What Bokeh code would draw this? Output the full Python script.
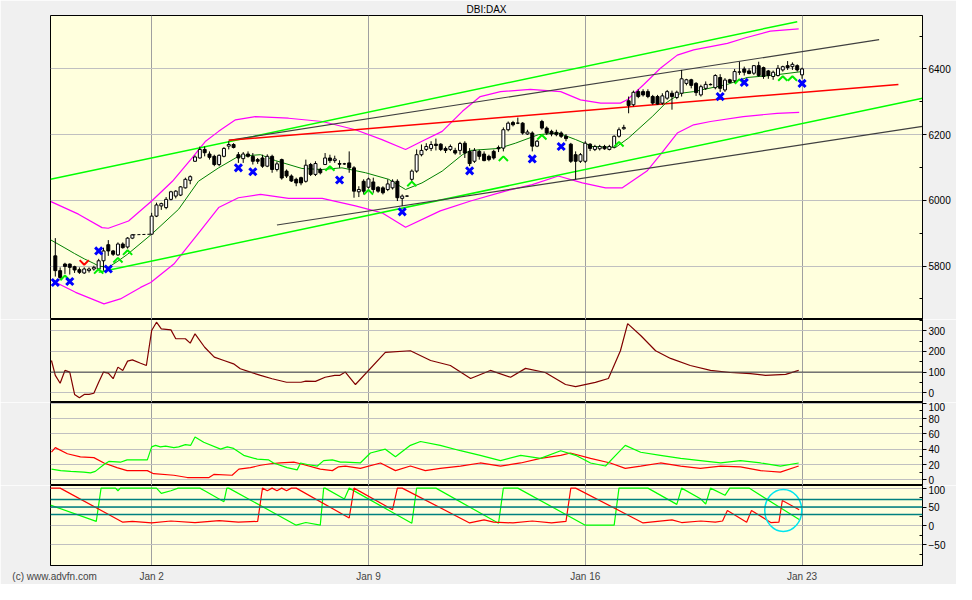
from bokeh.plotting import figure
from bokeh.models import Range1d, FixedTicker, Span, ColumnDataSource
from bokeh.layouts import column
from bokeh.embed import file_html
from bokeh.resources import INLINE

TITLE = "DBI:DAX"
COPYRIGHT = "(c) www.advfn.com"
COPYRIGHT_AT = 0.85
DATE_TICKS = [21, 66, 111, 156]
DATE_LABELS = ["Jan 2", "Jan 9", "Jan 16", "Jan 23"]

# hourly candles (x = trading-hour slot)
SLOT = list(range(1, 18)) + list(range(21, 157))
OPEN = [5831, 5786, 5806, 5806, 5798, 5789, 5779, 5786, 5791, 5791, 5816, 5865, 5846, 5834, 5867, 5858, 5885,
        5897, 5952, 5983, 5978, 6003, 6013, 6016, 6038, 6061, 6119, 6129, 6155, 6141, 6134, 6109, 6134, 6165, 6170,
        6139, 6127, 6141, 6134, 6124, 6129, 6104, 6134, 6094, 6124, 6089, 6074, 6064, 6069, 6058, 6109, 6079, 6094,
        6109, 6129, 6121, 6112, 6111, 6114, 6099, 6026, 6058, 6040, 6056, 6040, 6038, 6033, 6038, 6058, 6006, 6013,
        6064, 6089, 6139, 6155, 6158, 6171, 6171, 6158, 6155, 6152, 6152, 6174, 6149, 6119, 6149, 6141, 6134, 6149,
        6161, 6159, 6215, 6237, 6235, 6235, 6202, 6205, 6165, 6240, 6220, 6210, 6207, 6205, 6195, 6171, 6139, 6119,
        6119, 6171, 6155, 6157, 6164, 6155, 6162, 6195, 6218, 6303, 6291, 6331, 6331, 6331, 6316, 6316, 6296, 6311,
        6326, 6313, 6326, 6356, 6367, 6356, 6321, 6341, 6353, 6343, 6374, 6336, 6367, 6364, 6390, 6400, 6394, 6387,
        6410, 6404, 6394, 6377, 6380, 6397, 6410, 6407, 6410, 6382]
HIGH = [5885, 5796, 5810, 5808, 5801, 5796, 5796, 5796, 5801, 5822, 5856, 5879, 5849, 5872, 5872, 5888, 5897,
        5962, 5993, 5993, 6010, 6029, 6031, 6043, 6069, 6076, 6137, 6164, 6164, 6149, 6139, 6140, 6162, 6180, 6174,
        6147, 6147, 6149, 6144, 6129, 6139, 6140, 6139, 6118, 6127, 6094, 6079, 6069, 6072, 6124, 6114, 6119, 6099,
        6144, 6139, 6136, 6122, 6114, 6149, 6104, 6043, 6064, 6069, 6069, 6043, 6043, 6064, 6064, 6064, 6018, 6015,
        6094, 6155, 6170, 6174, 6180, 6188, 6174, 6164, 6170, 6160, 6178, 6180, 6159, 6159, 6154, 6149, 6139, 6154,
        6167, 6222, 6240, 6242, 6252, 6238, 6215, 6210, 6184, 6245, 6225, 6215, 6215, 6210, 6202, 6175, 6149, 6144,
        6180, 6174, 6169, 6169, 6169, 6169, 6198, 6222, 6230, 6316, 6334, 6338, 6338, 6338, 6321, 6321, 6326, 6336,
        6334, 6334, 6397, 6370, 6370, 6360, 6352, 6362, 6356, 6384, 6384, 6372, 6370, 6400, 6422, 6407, 6402, 6412,
        6422, 6407, 6397, 6395, 6412, 6410, 6424, 6420, 6414, 6404]
LOW = [5768, 5758, 5776, 5774, 5779, 5776, 5776, 5780, 5786, 5786, 5786, 5831, 5831, 5831, 5853, 5853, 5882,
       5895, 5949, 5971, 5973, 6000, 6006, 6013, 6036, 6049, 6117, 6127, 6134, 6124, 6104, 6104, 6131, 6155, 6158,
       6114, 6114, 6130, 6109, 6111, 6099, 6101, 6084, 6088, 6063, 6068, 6056, 6043, 6046, 6054, 6074, 6074, 6079,
       6109, 6114, 6114, 6099, 6108, 6084, 6008, 6010, 6018, 6036, 6023, 6023, 6018, 6028, 6033, 5998, 5983, 6011,
       6056, 6084, 6134, 6150, 6150, 6152, 6150, 6144, 6150, 6139, 6139, 6129, 6104, 6114, 6124, 6119, 6119, 6124,
       6147, 6149, 6210, 6225, 6232, 6200, 6199, 6149, 6162, 6215, 6199, 6195, 6195, 6190, 6180, 6114, 6064, 6114,
       6114, 6150, 6150, 6152, 6154, 6152, 6158, 6191, 6215, 6265, 6286, 6311, 6316, 6311, 6291, 6291, 6291, 6306,
       6276, 6308, 6316, 6350, 6341, 6318, 6316, 6336, 6350, 6338, 6330, 6330, 6357, 6357, 6382, 6380, 6384, 6382,
       6376, 6370, 6370, 6367, 6377, 6392, 6397, 6397, 6392, 6370]
CLOSE = [5786, 5765, 5799, 5796, 5788, 5781, 5791, 5791, 5796, 5816, 5846, 5846, 5836, 5867, 5856, 5885, 5895,
         5952, 5986, 5990, 6003, 6026, 6028, 6041, 6064, 6072, 6132, 6155, 6145, 6131, 6109, 6137, 6158, 6170, 6161,
         6129, 6141, 6134, 6119, 6119, 6104, 6134, 6094, 6111, 6068, 6074, 6059, 6053, 6053, 6107, 6079, 6112, 6084,
         6129, 6121, 6126, 6110, 6111, 6099, 6028, 6033, 6028, 6065, 6033, 6028, 6023, 6050, 6058, 6008, 6013, 6013,
         6089, 6139, 6152, 6164, 6170, 6167, 6155, 6152, 6164, 6144, 6173, 6144, 6112, 6152, 6134, 6121, 6124, 6129,
         6157, 6215, 6235, 6230, 6235, 6205, 6208, 6165, 6180, 6220, 6205, 6202, 6200, 6195, 6188, 6119, 6119, 6139,
         6174, 6158, 6164, 6164, 6157, 6164, 6195, 6215, 6222, 6289, 6329, 6316, 6321, 6316, 6296, 6293, 6318, 6331,
         6316, 6329, 6370, 6367, 6350, 6328, 6346, 6353, 6352, 6380, 6341, 6366, 6359, 6392, 6391, 6390, 6386, 6410,
         6380, 6377, 6380, 6390, 6402, 6407, 6404, 6414, 6397, 6400]

# moving average (dark green)
MA_X = [0, 3, 5, 7, 9, 10, 12, 14, 16, 21, 26.6, 30.7, 34.9, 39, 43.6, 46.7, 52.2, 56.4, 60.5, 65.4, 70.2, 73.7,
        77.1, 81.3, 85.5, 87.2, 93, 96.5, 101.3, 105.4, 109, 112.4, 117.3, 120, 124.9, 127.7, 130.8, 133.5, 140.5,
        144.6, 149.4, 156]
MA_Y = [5880, 5855, 5838, 5822, 5808, 5800, 5796, 5815, 5836, 5897, 5973, 6058, 6099, 6134, 6139, 6121, 6097, 6094,
        6099, 6084, 6064, 6033, 6053, 6089, 6139, 6152, 6158, 6174, 6200, 6205, 6185, 6164, 6161, 6190, 6255, 6296,
        6326, 6331, 6353, 6374, 6380, 6392]

# bollinger bands (magenta)
BBU_X = [0.1, 5.8, 10.7, 12, 16.2, 21, 25.3, 29.4, 32.2, 34.9, 38.4, 42.5, 49.4, 56.4, 63.3, 68.8, 73.7, 77.1, 81.3,
         85.5, 89.2, 93.4, 99.6, 105.9, 110, 114.2, 118.3, 119.7, 123.1, 126.6, 130.1, 133.5, 137, 140.5, 144.3,
         149.4, 155.3]
BBU_Y = [5996, 5958, 5917, 5915, 5937, 5998, 6058, 6129, 6180, 6210, 6245, 6255, 6250, 6240, 6215, 6185, 6155, 6180,
         6210, 6271, 6316, 6331, 6338, 6331, 6306, 6296, 6296, 6306, 6352, 6402, 6442, 6458, 6468, 6478, 6495, 6515,
         6522]
BBL_X = [0.4, 5.2, 11.1, 14.5, 18.7, 20.8, 25.6, 31.1, 34.9, 39, 43.6, 49.4, 56.4, 63.3, 68.8, 73.7, 80.9, 87.2,
         94.4, 100, 105.4, 110.4, 115.2, 118.7, 123.8, 126.6, 130.1, 133.5, 137, 143.8, 150.8, 155.4]
BBL_Y = [5755, 5720, 5685, 5700, 5735, 5750, 5806, 5907, 5978, 6008, 6018, 6006, 6006, 5983, 5962, 5918, 5968, 5998,
         6028, 6048, 6074, 6053, 6038, 6038, 6089, 6139, 6205, 6230, 6240, 6255, 6265, 6268]

# trend lines
GREEN_UP_X, GREEN_UP_Y = [0, 155], [6064, 6544]
GREEN_LO_X, GREEN_LO_Y = [10, 181], [5781, 6311]
DARK_UP_X, DARK_UP_Y = [37, 172], [6183, 6489]
DARK_LO_X, DARK_LO_Y = [47, 181], [5925, 6225]
RED_X, RED_Y = [37, 176], [6183, 6353]

# signals
XMARK_X = [1, 4, 10, 12, 39, 42, 60, 73, 87, 100, 106, 139, 144, 156]
XMARK_Y = [5750, 5753, 5846, 5791, 6099, 6087, 6062, 5965, 6090, 6126, 6164, 6316, 6359, 6356]
UP_X = [3, 10, 14, 16, 58, 66, 75, 94, 102, 118, 143, 152, 154]
UP_Y = [5764, 5784, 5818, 5841, 6097, 6025, 6050, 6127, 6192, 6171, 6362, 6371, 6371]
DOWN_X = [7]
DOWN_Y = [5811]

# indicator 1 (maroon)
IND1_X = [0.2, 1, 2, 3, 4, 5, 6, 7, 8, 9, 10, 11, 12, 13, 14, 15, 16, 17, 18.7, 19.9, 21, 22, 23, 25, 26, 28, 29,
          30, 32, 34, 36, 38, 39.4, 41.5, 43.6, 46, 49, 52, 53, 55, 57, 59, 60, 61.2, 63.3, 69.5, 74.7, 78.9, 83,
          87.2, 91.3, 95.5, 98.6, 102.7, 106.9, 109, 113.1, 115.8, 118.3, 119.8, 122.5, 125.6, 128.7, 132.8, 137,
          141.1, 145.3, 148.4, 152.6, 155.3]
IND1_Y = [156, 84, 46, 108, 100, -8, -24, -8, -8, -2, 51, 100, 95, 68, 124, 108, 153, 159, 143, 132, 301, 341, 309,
          304, 261, 261, 240, 285, 220, 172, 156, 140, 116, 100, 84, 68, 51, 51, 56, 55, 75, 84, 84, 100, 40, 195,
          203, 156, 132, 69, 108, 75, 118, 98, 40, 30, 50, 69, 203, 334, 277, 203, 166, 132, 108, 98, 93, 84, 89, 108]

# indicator 2 (+DI green / -DI red)
DI_RED_X = [0.2, 1, 3.5, 6.2, 9, 11.1, 13.8, 15.9, 20.1, 21.4, 25.6, 28.4, 32.9, 33.9, 37.7, 39.1, 41.5, 43.6, 45.7,
            47.7, 50.5, 51.9, 56, 58.5, 59.8, 61.2, 64.3, 68.5, 71.6, 74.7, 77.8, 80.9, 85.1, 89.2, 93.4, 97.6,
            101.7, 105.9, 107.9, 112.1, 116.2, 119.3, 122.5, 126.6, 130.8, 134.9, 139.1, 143.2, 147.4, 151.5, 155.3]
DI_RED_Y = [36, 42, 34, 30, 29, 22, 16, 12, 12, 8, 6, 3, 3, 7, 6, 14, 16, 19, 21, 22, 23, 21, 14, 12, 17, 18, 15, 22,
            12, 18, 12, 15, 18, 22, 18, 22, 28, 32, 35, 28, 22, 15, 18, 22, 18, 15, 18, 17, 12, 10, 18]
DI_GREEN_X = [0.2, 2.1, 4.2, 6.9, 8.3, 9.3, 11.1, 12.1, 14.5, 15.9, 20.1, 21, 21.8, 22.8, 23.9, 25.6, 26.6, 28, 29.1,
              30, 31.8, 35.3, 36.7, 38, 40.1, 42.9, 45.3, 46.3, 49.1, 51.2, 51.9, 53.3, 55.4, 56.7, 58.5, 60.2, 61.2,
              64.3, 66.4, 69.5, 71.6, 74.7, 76.8, 80.9, 85.1, 89.2, 93.4, 97.6, 101.7, 105.9, 109, 112.1, 115.2,
              117.3, 119.3, 122.5, 126.6, 130.8, 134.9, 139.1, 143.2, 147.4, 151.5, 155.3]
DI_GREEN_Y = [14, 12, 11, 10, 9, 11, 20, 24, 23, 26, 26, 43, 45, 43, 44, 42, 43, 46, 45, 56, 49, 40, 43, 41, 32, 27,
              26, 22, 16, 13, 22, 20, 18, 25, 26, 23, 23, 22, 35, 40, 30, 45, 50, 45, 38, 32, 25, 32, 28, 38, 32, 22,
              18, 32, 45, 36, 32, 28, 25, 22, 25, 22, 18, 22]

# indicator 3 (aroon up green / aroon down red)
AR_GREEN_X = [0, 9.5, 10.5, 13.5, 14, 14.5, 21, 22, 23, 25, 26.5, 31, 32, 36, 36.6, 37, 51, 53, 56, 56.7, 57, 61,
              62, 75, 76, 80, 93, 94, 97, 111, 117, 118, 124, 130, 131, 135, 136, 137, 140, 141, 145, 155.4]
AR_GREEN_Y = [55, 12, 100, 100, 93, 100, 100, 100, 86, 93, 100, 100, 93, 64, 100, 100, 2, 9, 2, 100, 100, 71, 100,
              7, 100, 100, 7, 100, 100, 2, 2, 100, 100, 57, 100, 71, 58, 100, 81, 100, 100, 17]
AR_RED_X = [0, 2, 15, 17, 21, 25, 30, 35, 39, 43, 44, 45, 46, 47, 48, 49, 50, 51, 62, 63, 71, 72, 73, 87, 90, 92,
            96, 100, 104, 107, 108, 109, 123, 126, 129, 131, 135, 138, 139.5, 140.5, 144.5, 145.5, 149.5, 151.2,
            151.9, 155.4]
AR_RED_Y = [100, 100, 10, 12, 8, 13, 9, 14, 10, 12, 100, 93, 100, 93, 100, 93, 100, 100, 21, 100, 43, 100, 100, 8,
            16, 10, 8, 13, 8, 12, 100, 100, 8, 12, 16, 9, 13, 10, 13, 41, 10, 41, 9, 10, 67, 43]
AR_LEVELS = [70, 50, 30]
CIRCLE_X, CIRCLE_Y = [152.1], [41]

FONT = "Liberation Sans"
BG = "#FFFFDD"
PAGE = "#F0F0F0"

xr = Range1d(0, 181)


def panel(height, yr, major, minor, top=0, bottom=0, xaxis=False):
    p = figure(width=956, height=height, x_range=xr, y_range=Range1d(*yr), output_backend="svg",
               toolbar_location=None, tools="", y_axis_location="right",
               x_axis_location="below" if xaxis else None,
               min_border_left=50, min_border_right=34, min_border_top=top, min_border_bottom=bottom,
               background_fill_color=BG, border_fill_color=PAGE, outline_line_color="black",
               outline_line_width=1)
    ax = p.yaxis[0]
    ax.ticker = FixedTicker(ticks=major, minor_ticks=minor)
    ax.axis_line_color = "black"
    ax.major_tick_out = 4
    ax.major_tick_in = 0
    ax.minor_tick_in = 3
    ax.minor_tick_out = 0
    ax.major_label_standoff = 2
    ax.major_label_text_font = FONT
    ax.major_label_text_font_size = "10px"
    ax.major_label_text_color = "black"
    p.ygrid.ticker = FixedTicker(ticks=major)
    p.ygrid.grid_line_color = "#C0C0C0"
    p.xgrid.ticker = FixedTicker(ticks=DATE_TICKS)
    p.xgrid.grid_line_color = "#A0A0A0"
    if xaxis:
        xa = p.xaxis[0]
        xa.ticker = FixedTicker(ticks=[COPYRIGHT_AT] + DATE_TICKS)
        ov = {t: l for t, l in zip(DATE_TICKS, DATE_LABELS)}
        ov[COPYRIGHT_AT] = COPYRIGHT
        xa.major_label_overrides = ov
        xa.axis_line_color = "black"
        xa.major_tick_out = 0
        xa.major_tick_in = 0
        xa.minor_tick_out = 0
        xa.minor_tick_in = 0
        xa.major_label_standoff = 5
        xa.major_label_text_font = FONT
        xa.major_label_text_font_size = "10px"
    return p


# ---------------- price panel ----------------
p1 = panel(319, (5637.3, 6562.7), [5800, 6000, 6200, 6400], [5700, 5900, 6100, 6300, 6500], top=14)
p1.title.text = TITLE
p1.title.align = "center"
p1.title.text_font = FONT
p1.title.text_font_size = "10px"
p1.title.text_font_style = "normal"
p1.title.text_color = "black"
p1.title.standoff = 2
p1.title.offset = 0

for xs, ys, col, w in [(BBU_X, BBU_Y, "#FF00FF", 1.2), (BBL_X, BBL_Y, "#FF00FF", 1.2),
                       (GREEN_UP_X, GREEN_UP_Y, "#00FF00", 1.5), (GREEN_LO_X, GREEN_LO_Y, "#00FF00", 1.5),
                       (DARK_UP_X, DARK_UP_Y, "#404040", 1.2), (DARK_LO_X, DARK_LO_Y, "#404040", 1.2),
                       (RED_X, RED_Y, "#FF0000", 1.5), (MA_X, MA_Y, "#008000", 1.0)]:
    p1.line(xs, ys, line_color=col, line_width=w)

cd = dict(x=[], h=[], l=[], top=[], bot=[], fill=[])
for s, o, h, l, c in zip(SLOT, OPEN, HIGH, LOW, CLOSE):
    cd["x"].append(s); cd["h"].append(h); cd["l"].append(l)
    cd["top"].append(max(o, c)); cd["bot"].append(min(o, c))
    cd["fill"].append("white" if c >= o else "black")
src = ColumnDataSource(cd)
p1.segment(x0="x", y0="l", x1="x", y1="h", source=src, line_color="black", line_width=1)
p1.vbar(x="x", width=0.62, top="top", bottom="bot", source=src, fill_color="fill", line_color="black",
        line_width=1)
# holiday gap
gi = SLOT.index(21)
p1.line([SLOT[gi - 1], SLOT[gi]], [CLOSE[gi - 1], OPEN[gi]], line_color="black", line_dash="3 2", line_width=1)

# chevrons
cw, ch = 0.95, 14
p1.multi_line([[x - cw, x, x + cw] for x in UP_X], [[y - ch / 2, y + ch / 2, y - ch / 2] for y in UP_Y],
              line_color="#00EE00", line_width=2)
p1.multi_line([[x - cw, x, x + cw] for x in DOWN_X], [[y + ch / 2, y - ch / 2, y + ch / 2] for y in DOWN_Y],
              line_color="#FF0000", line_width=2)
p1.scatter(XMARK_X, XMARK_Y, marker="x", size=10, line_width=3, line_color="#0000FF")

# ---------------- indicator 1 ----------------
p2 = panel(83, (-46.9, 354.1), [0, 100, 200, 300], [50, 150, 250, 350])
p2.add_layout(Span(location=100, dimension="width", line_color="#404040", line_width=1))
p2.line(IND1_X, IND1_Y, line_color="#800000", line_width=1.2)

# ---------------- indicator 2 ----------------
p3 = panel(83, (-7.4, 100.9), [0, 20, 40, 60, 80, 100], [10, 30, 50, 70, 90])
p3.line(DI_RED_X, DI_RED_Y, line_color="#FF0000", line_width=1.2)
p3.line(DI_GREEN_X, DI_GREEN_Y, line_color="#00FF00", line_width=1.2)

# ---------------- indicator 3 ----------------
p4 = panel(99, (-104.6, 106.9), [-50, 0, 50, 100], [-75, -25, 25, 75], bottom=17, xaxis=True)
for lv in AR_LEVELS:
    p4.add_layout(Span(location=lv, dimension="width", line_color="#008080", line_width=1.5))
p4.line(AR_GREEN_X, AR_GREEN_Y, line_color="#00FF00", line_width=1.2)
p4.line(AR_RED_X, AR_RED_Y, line_color="#FF0000", line_width=1.2)
p4.ellipse(x=CIRCLE_X, y=CIRCLE_Y, width=37, height=42, width_units="screen", height_units="screen",
           fill_alpha=0, line_color="#00E5EE", line_width=1.5)

layout = column(p1, p2, p3, p4, spacing=0)
open("out.html", "w").write(file_html(layout, INLINE))
